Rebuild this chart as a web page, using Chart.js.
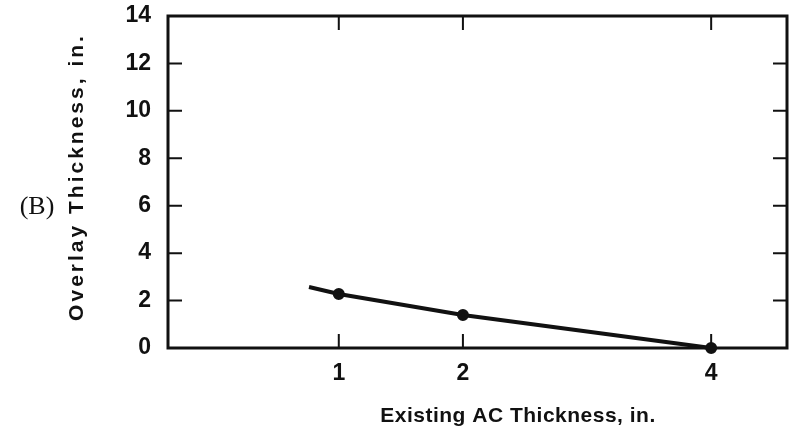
<!DOCTYPE html>
<html>
<head>
<meta charset="utf-8">
<script src="https://cdn.jsdelivr.net/npm/chart.js@4.4.0/dist/chart.umd.min.js"></script>
<style>
  html, body { margin: 0; padding: 0; background: #fff; }
  #wrap { width: 795px; height: 439px; }
</style>
</head>
<body>
<div id="wrap"><canvas id="overlayChart" width="795" height="439"></canvas></div>
<script>
// values
const acThickness = [0.76, 1, 2, 4];
const overlayThickness = [2.57, 2.28, 1.39, 0];
const markerSizes = [0, 4, 4, 4];
const xTickValues = [1, 2, 4];
const yTickValues = [0, 2, 4, 6, 8, 10, 12, 14];

const xTitle = "Existing AC Thickness, in.";
const yTitle = "Overlay Thickness, in.";
const panelLabel = "(B)";

// frame + inward ticks + titles
const framePlugin = {
  id: "frame",
  afterDraw(chart) {
    const ctx = chart.ctx;
    const area = chart.chartArea;
    const xs = chart.scales.x;
    const ys = chart.scales.y;
    const len = 14;

    ctx.save();
    ctx.strokeStyle = "#111";
    ctx.lineWidth = 3;
    ctx.strokeRect(area.left, area.top, area.right - area.left, area.bottom - area.top);

    ctx.lineWidth = 2;
    ctx.beginPath();
    xTickValues.forEach((v) => {
      const px = xs.getPixelForValue(v);
      ctx.moveTo(px, area.bottom);
      ctx.lineTo(px, area.bottom - len);
      ctx.moveTo(px, area.top);
      ctx.lineTo(px, area.top + len);
    });
    yTickValues.forEach((v) => {
      const py = ys.getPixelForValue(v);
      ctx.moveTo(area.left, py);
      ctx.lineTo(area.left + len, py);
      ctx.moveTo(area.right, py);
      ctx.lineTo(area.right - len, py);
    });
    ctx.stroke();

    ctx.fillStyle = "#111";
    ctx.textAlign = "center";
    ctx.textBaseline = "middle";

    // x axis title (sits right of centre in the original)
    ctx.font = "bold 21px 'Liberation Sans', Arial, sans-serif";
    ctx.letterSpacing = "0.5px";
    ctx.fillText(xTitle, 518, 416);

    // y axis title
    ctx.save();
    ctx.translate(77, 177);
    ctx.rotate(-Math.PI / 2);
    ctx.letterSpacing = "3px";
    ctx.fillText(yTitle, 0, 0);
    ctx.restore();

    // panel label
    ctx.letterSpacing = "0px";
    ctx.font = "26px 'Liberation Serif', 'Times New Roman', serif";
    ctx.fillText(panelLabel, 37, 207);
    ctx.restore();
  },
};

const ctx = document.getElementById("overlayChart").getContext("2d");

const overlayChart = new Chart(ctx, {
  type: "scatter",
  data: {
    datasets: [
      {
        data: acThickness.map((x, i) => ({ x: x, y: overlayThickness[i] })),
        showLine: true,
        borderColor: "#111",
        backgroundColor: "#111",
        borderWidth: 4,
        pointRadius: markerSizes,
        pointHoverRadius: markerSizes,
        clip: false,
      },
    ],
  },
  options: {
    responsive: false,
    animation: false,
    layout: {
      padding: { top: 16, right: 7, left: 0, bottom: 0 },
    },
    plugins: {
      legend: { display: false },
      tooltip: { enabled: false },
    },
    scales: {
      x: {
        type: "linear",
        min: -0.376,
        max: 4.611,
        afterBuildTicks: (scale) => {
          scale.ticks = xTickValues.map((v) => ({ value: v }));
        },
        afterFit: (scale) => {
          scale.height = 439 - 348;
          scale.paddingLeft = 0;
          scale.paddingRight = 0;
        },
        grid: { display: false, drawTicks: false },
        border: { display: false },
        ticks: {
          padding: 12,
          color: "#111",
          font: { family: "'Liberation Sans', Arial, sans-serif", size: 23, weight: "bold" },
        },
      },
      y: {
        type: "linear",
        min: 0,
        max: 14,
        afterBuildTicks: (scale) => {
          scale.ticks = yTickValues.map((v) => ({ value: v }));
        },
        afterFit: (scale) => {
          scale.width = 168;
          scale.paddingTop = 0;
          scale.paddingBottom = 0;
        },
        grid: { display: false, drawTicks: false },
        border: { display: false },
        ticks: {
          padding: 17,
          color: "#111",
          font: { family: "'Liberation Sans', Arial, sans-serif", size: 23, weight: "bold" },
        },
      },
    },
  },
  plugins: [framePlugin],
});
</script>
</body>
</html>
